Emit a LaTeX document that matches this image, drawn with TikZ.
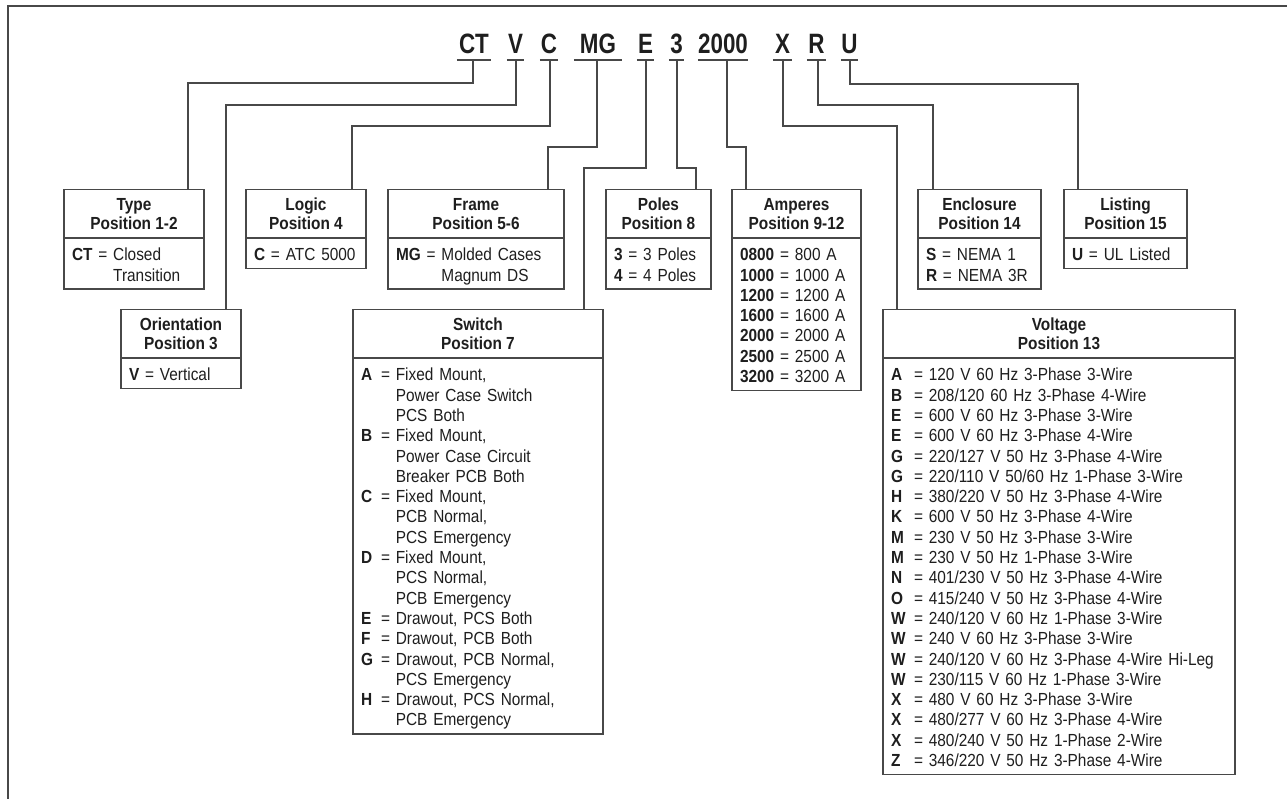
\documentclass[tikz,border=0pt]{standalone}
\usepackage{fontspec}
\setmainfont{Liberation Sans}[FakeStretch=0.88]
\newfontfamily\codefont{Liberation Sans}[FakeStretch=0.8]
\usetikzlibrary{positioning}

\definecolor{cline}{RGB}{72,72,72}
\definecolor{ctext}{RGB}{30,30,30}
\tikzset{codeltr/.style={font=\codefont\fontsize{28pt}{30pt}\selectfont\bfseries,text=ctext,inner sep=0pt,anchor=base},
         codebar/.style={cline,line width=2.6pt},
         conn/.style={cline,line width=1.2pt},
         frameln/.style={cline,line width=1.5pt}}
\tikzset{boxhead/.style={draw=cline,line width=1.2pt,anchor=north,minimum height=48pt,align=center,
            inner sep=0pt,text=ctext,font=\fontsize{17.5pt}{19pt}\selectfont\bfseries},
         boxbody/.style={draw=cline,line width=1.2pt,anchor=north,align=left,inner xsep=8pt,inner ysep=4pt,
            text height=18pt,text=ctext,font=\fontsize{17.5pt}{20.3pt}\selectfont,
            execute at end node={\rule[-4pt]{0pt}{4pt}}}}
\newcommand{\ky}[1]{\textbf{#1}}
\newcommand{\swrow}[2]{\makebox[20pt][l]{\textbf{#1}}= #2}
\newcommand{\swcont}{\hspace*{20pt}\phantom{= }}
\newcommand{\vrow}[2]{\makebox[23pt][l]{\textbf{#1}}= #2}

\begin{document}
\begin{tikzpicture}[x=1pt,y=1pt]
    \useasboundingbox (0,0) rectangle (1287,-799);
    \draw[frameln] (8,-799) -- (8,-6) -- (1287,-6);
    % catalog code
    \foreach \nm/\txt/\cx/\w in {ct/CT/474/34pt, v/V/515.5/17pt, c/C/549/18pt, mg/MG/598/48pt, e/E/645.5/17pt,
                                 th/3/676.5/15pt, am/2000/723/50pt, x/X/782.5/19pt, r/R/816.5/19pt, u/U/849.5/17pt}{
      \node[codeltr,minimum width=\w] (c\nm) at (\cx,-54) {\txt};
      \draw[codebar] ([yshift=-6pt]c\nm.base west) -- ([yshift=-6pt]c\nm.base east);
    }
    % top row
    \node[boxhead,minimum width=140pt] (typeh) at (134,-189) {Type\\Position 1-2};
    \node[boxbody,text width=124pt] (typeb) at (typeh.south) {\ky{CT} = Closed\\\phantom{\ky{CT} = }Transition};
    \node[boxhead,minimum width=120pt] (logich) at (306,-189) {Logic\\Position 4};
    \node[boxbody,text width=104pt] (logicb) at (logich.south) {\ky{C} = ATC 5000};
    \node[boxhead,minimum width=176pt] (frameh) at (476,-189) {Frame\\Position 5-6};
    \node[boxbody,text width=160pt] (frameb) at (frameh.south) {\ky{MG} = Molded Cases\\\phantom{\ky{MG} = }Magnum DS};
    \node[boxhead,minimum width=105pt] (polesh) at (658.5,-189) {Poles\\Position 8};
    \node[boxbody,text width=89pt] (polesb) at (polesh.south) {\ky{3} = 3 Poles\\\ky{4} = 4 Poles};
    \node[boxhead,minimum width=129pt] (amph) at (796.5,-189) {Amperes\\Position 9-12};
    \node[boxbody,text width=113pt] (ampb) at (amph.south)
      {\ky{0800} = 800 A\\\ky{1000} = 1000 A\\\ky{1200} = 1200 A\\\ky{1600} = 1600 A\\
       \ky{2000} = 2000 A\\\ky{2500} = 2500 A\\\ky{3200} = 3200 A};
    \node[boxhead,minimum width=123pt] (enclh) at (979.5,-189) {Enclosure\\Position 14};
    \node[boxbody,text width=107pt] (enclb) at (enclh.south) {\ky{S} = NEMA 1\\\ky{R} = NEMA 3R};
    \node[boxhead,minimum width=123pt] (listh) at (1125.5,-189) {Listing\\Position 15};
    \node[boxbody,text width=107pt] (listb) at (listh.south) {\ky{U} = UL Listed};
    % lower row
    \node[boxhead,minimum width=120pt] (orienth) at (181,-309) {Orientation\\Position 3};
    \node[boxbody,text width=104pt] (orientb) at (orienth.south) {\ky{V} = Vertical};
    \node[boxhead,minimum width=250pt] (switchh) at (478,-309) {Switch\\Position 7};
    \node[boxbody,text width=234pt] (switchb) at (switchh.south)
      {\swrow{A}{Fixed Mount,}\\\swcont Power Case Switch\\\swcont PCS Both\\
       \swrow{B}{Fixed Mount,}\\\swcont Power Case Circuit\\\swcont Breaker PCB Both\\
       \swrow{C}{Fixed Mount,}\\\swcont PCB Normal,\\\swcont PCS Emergency\\
       \swrow{D}{Fixed Mount,}\\\swcont PCS Normal,\\\swcont PCB Emergency\\
       \swrow{E}{Drawout, PCS Both}\\\swrow{F}{Drawout, PCB Both}\\
       \swrow{G}{Drawout, PCB Normal,}\\\swcont PCS Emergency\\
       \swrow{H}{Drawout, PCS Normal,}\\\swcont PCB Emergency};
    \node[boxhead,minimum width=352pt] (volth) at (1059,-309) {Voltage\\Position 13};
    \node[boxbody,text width=336pt] (voltb) at (volth.south)
      {\vrow{A}{120 V 60 Hz 3-Phase 3-Wire}\\\vrow{B}{208/120 60 Hz 3-Phase 4-Wire}\\
       \vrow{E}{600 V 60 Hz 3-Phase 3-Wire}\\\vrow{E}{600 V 60 Hz 3-Phase 4-Wire}\\
       \vrow{G}{220/127 V 50 Hz 3-Phase 4-Wire}\\\vrow{G}{220/110 V 50/60 Hz 1-Phase 3-Wire}\\
       \vrow{H}{380/220 V 50 Hz 3-Phase 4-Wire}\\\vrow{K}{600 V 50 Hz 3-Phase 4-Wire}\\
       \vrow{M}{230 V 50 Hz 3-Phase 3-Wire}\\\vrow{M}{230 V 50 Hz 1-Phase 3-Wire}\\
       \vrow{N}{401/230 V 50 Hz 3-Phase 4-Wire}\\\vrow{O}{415/240 V 50 Hz 3-Phase 4-Wire}\\
       \vrow{W}{240/120 V 60 Hz 1-Phase 3-Wire}\\\vrow{W}{240 V 60 Hz 3-Phase 3-Wire}\\
       \vrow{W}{240/120 V 60 Hz 3-Phase 4-Wire Hi-Leg}\\\vrow{W}{230/115 V 60 Hz 1-Phase 3-Wire}\\
       \vrow{X}{480 V 60 Hz 3-Phase 3-Wire}\\\vrow{X}{480/277 V 60 Hz 3-Phase 4-Wire}\\
       \vrow{X}{480/240 V 50 Hz 1-Phase 2-Wire}\\\vrow{Z}{346/220 V 50 Hz 3-Phase 4-Wire}};
    % connectors: code -> box
    \foreach \nm/\sh/\dx/\dy/\bx in {ct/-1/188/83/typeh, v/0.5/226/105/orienth, c/1/352/126/logich,
                                     mg/-1/548/147/frameh, e/0.5/584/168/switchh, th/0.5/696/168/polesh,
                                     am/4/746/147/amph, x/0.5/897/126/volth, r/1.5/933/105/enclh, u/0.5/1078/84/listh}{
      \coordinate (k\nm) at (\dx,-\dy);
      \draw[conn] ([xshift=\sh pt,yshift=-6pt]c\nm.base) |- (k\nm) -- (k\nm |- \bx.north);
    }
\end{tikzpicture}
\end{document}
